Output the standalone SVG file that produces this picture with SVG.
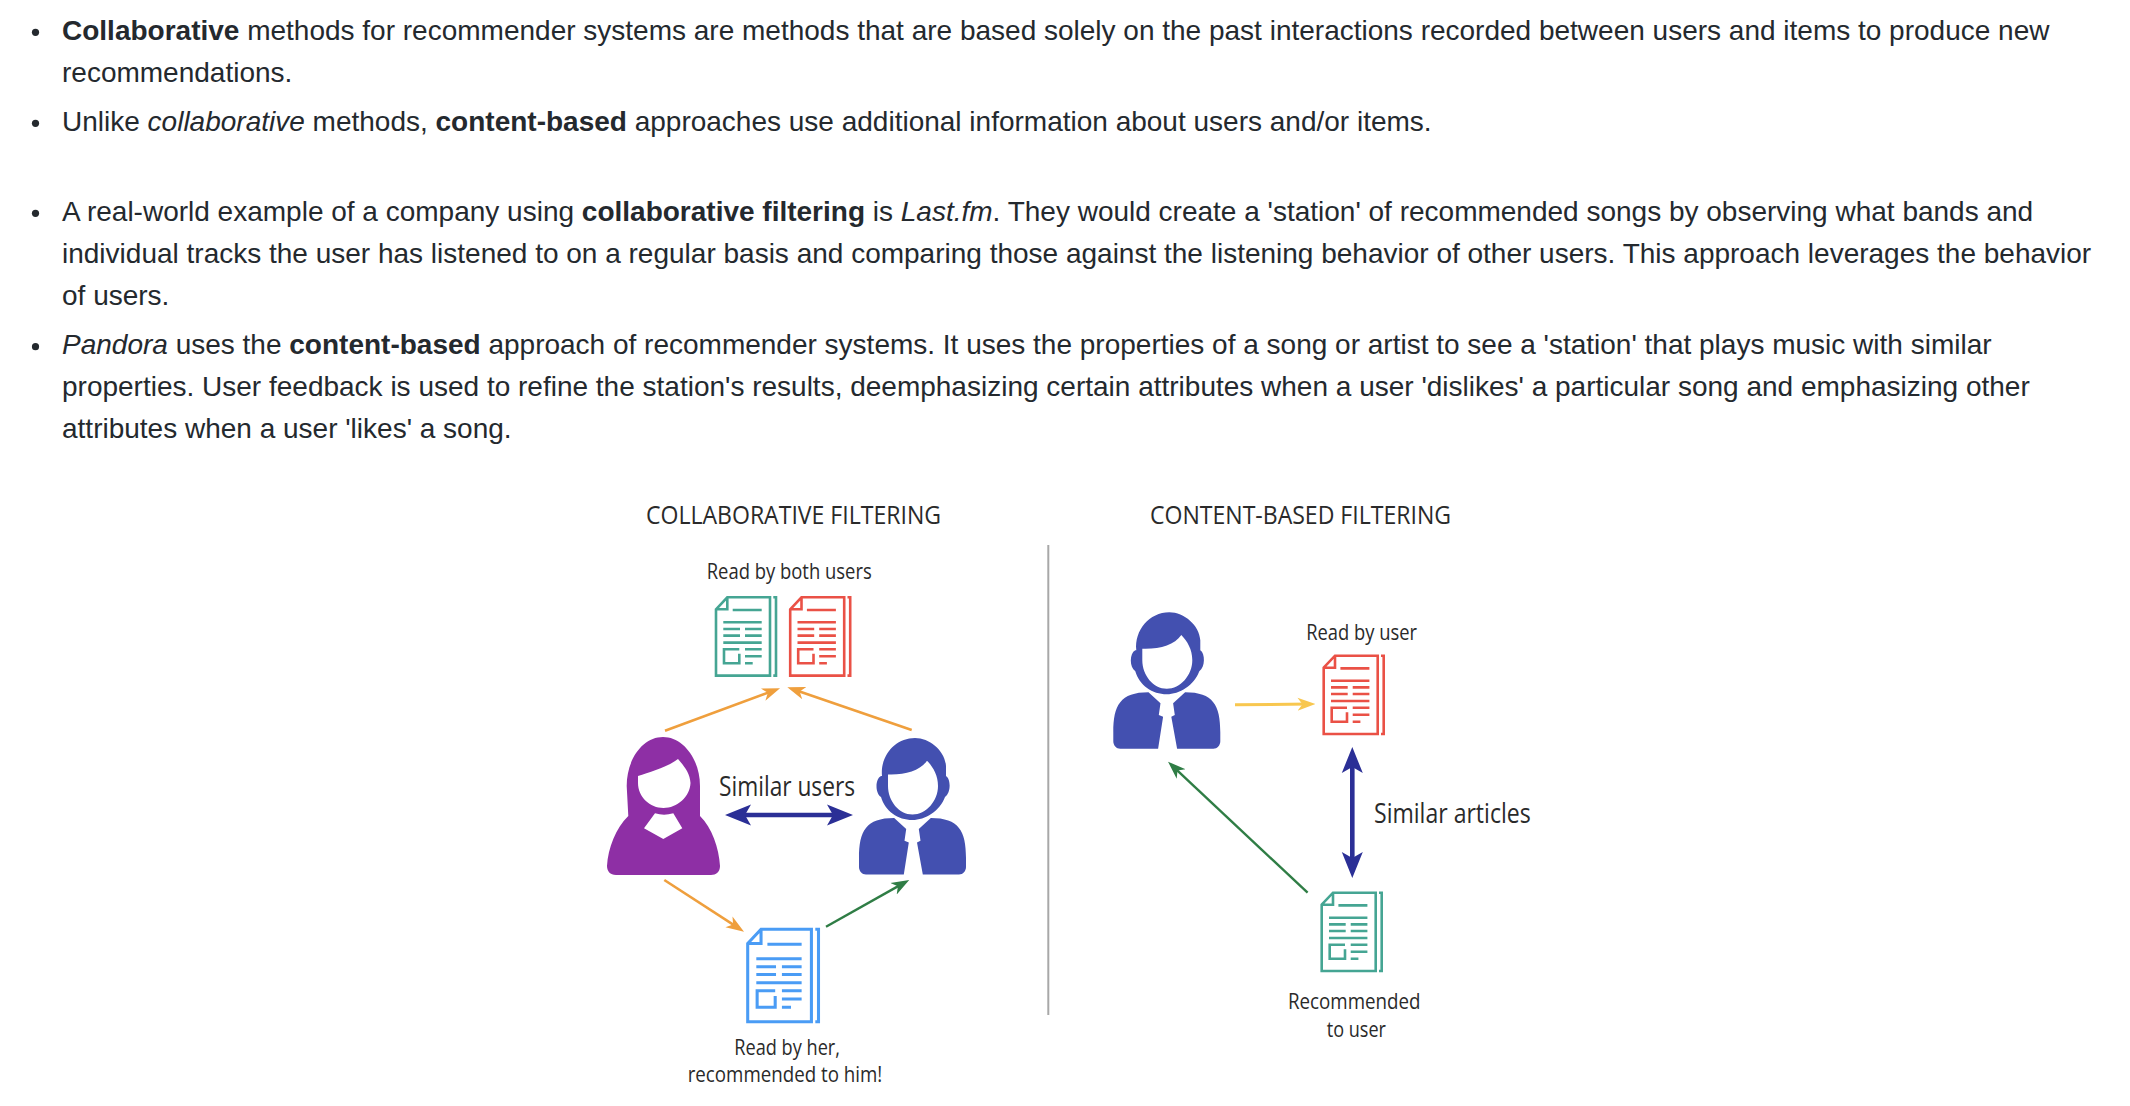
<svg xmlns="http://www.w3.org/2000/svg" xmlns:xlink="http://www.w3.org/1999/xlink" width="2130" height="1106" viewBox="0 0 2130 1106">
<style>
.p{font-family:"Liberation Sans",Arial,sans-serif;font-size:28px;fill:#24292e}
.b{font-weight:700}.i{font-style:italic}
.t{font-family:"Open Sans","Noto Sans",sans-serif;fill:#2a2a2a}
.h{font-size:26px}.l{font-size:22px}.m{font-size:27px}
.blt{fill:#24292e}
.ln{fill:none}
.or{stroke:#ef9f3d;stroke-width:2.6}
.gr{stroke:#2f7d45;stroke-width:2.4}
.ye{stroke:#f8c74f;stroke-width:3}
.nv{stroke:#2b2f96;stroke-width:4.6}
</style>
<defs>
<marker id="aO" markerUnits="userSpaceOnUse" markerWidth="18" markerHeight="14" viewBox="0 -7 18 14" refX="12" refY="0" orient="auto"><path d="M18,0L0,6.5L5,0L0,-6.5Z" fill="#ef9f3d"/></marker>
<marker id="aG" markerUnits="userSpaceOnUse" markerWidth="18" markerHeight="14" viewBox="0 -7 18 14" refX="12" refY="0" orient="auto"><path d="M18,0L0,6.5L5,0L0,-6.5Z" fill="#2f7d45"/></marker>
<marker id="aY" markerUnits="userSpaceOnUse" markerWidth="18" markerHeight="14" viewBox="0 -7 18 14" refX="12" refY="0" orient="auto"><path d="M18,0L0,6.5L5,0L0,-6.5Z" fill="#f8c74f"/></marker>
<marker id="aN" markerUnits="userSpaceOnUse" markerWidth="26" markerHeight="24" viewBox="0 -12 26 24" refX="13" refY="0" orient="auto-start-reverse"><path d="M26,0L0,10.5L6,0L0,-10.5Z" fill="#2b2f96"/></marker>
<g id="doc" fill="none" stroke-width="2.6">
<path d="M0,12L11.3,0H54V78.3H0ZM0,12H11.3V0M57.3,0H60V78.3H57.3M16.7,12.7H45.7M7.3,25H45.7M7.3,31.7H24M29,31.7H45.7M7.3,38.3H24M29,38.3H45.7M7.3,45.3H45.7M23.3,56.5V66H8V52H23.3M29,52H45.7M29,59H45.7M29,66H36.7"/>
</g>
<g id="man">
<path d="M882,776C880,756 895,738 915,738C930,738 945,751 946,766L946,776C951,779 951,793 945,797C940,811 925,820 912.5,820C898,820 885,811 881,797C875,793 875,779 881,776Z"/>
<path fill="#fff" d="M888,774.4C905,775 920,771 927,760.7C933,767 938,775 938,786C938,801 926,814.5 912.5,814.5C899,814.5 888,801 888,786Z"/>
<path d="M894.2,818C866,818 859,831 859,858V867C859,871 862,874.5 866,874.5H903.8L908.8,842.4L904.5,840.7L906.2,829Z"/>
<path d="M930.8,818C959,818 966,831 966,858V867C966,871 963,874.5 959,874.5H922.8L917,842.4L920.5,840.7L918.8,829Z"/>
</g>
</defs>
<rect width="2130" height="1106" fill="#fff"/>
<g id="bullets" class="blt">
<circle cx="35.5" cy="32.3" r="3.6"/><circle cx="35.5" cy="123.3" r="3.6"/><circle cx="35.5" cy="213.3" r="3.6"/><circle cx="35.5" cy="346.7" r="3.6"/>
</g>
<g id="paragraph">
<text class="p" x="62" y="40"><tspan class="b">Collaborative</tspan> methods for recommender systems are methods that are based solely on the past interactions recorded between users and items to produce new</text>
<text class="p" x="62" y="82">recommendations.</text>
<text class="p" x="62" y="131">Unlike <tspan class="i">collaborative</tspan> methods, <tspan class="b">content-based</tspan> approaches use additional information about users and/or items.</text>
<text class="p" x="62" y="221">A real-world example of a company using <tspan class="b">collaborative filtering</tspan> is <tspan class="i">Last.fm</tspan>. They would create a 'station' of recommended songs by observing what bands and</text>
<text class="p" x="62" y="263">individual tracks the user has listened to on a regular basis and comparing those against the listening behavior of other users. This approach leverages the behavior</text>
<text class="p" x="62" y="305">of users.</text>
<text class="p" x="62" y="354"><tspan class="i">Pandora</tspan> uses the <tspan class="b">content-based</tspan> approach of recommender systems. It uses the properties of a song or artist to see a 'station' that plays music with similar</text>
<text class="p" x="62" y="396">properties. User feedback is used to refine the station's results, deemphasizing certain attributes when a user 'dislikes' a particular song and emphasizing other</text>
<text class="p" x="62" y="438">attributes when a user 'likes' a song.</text>
</g>
<g id="titles">
<text class="t h" x="646" y="524" textLength="295" lengthAdjust="spacingAndGlyphs">COLLABORATIVE FILTERING</text>
<text class="t h" x="1150" y="524" textLength="301" lengthAdjust="spacingAndGlyphs">CONTENT-BASED FILTERING</text>
</g>
<line id="divider" x1="1048.3" y1="545" x2="1048.3" y2="1015" stroke="#a8a8a8" stroke-width="2"/>
<g id="connectors" class="ln">
<line class="or" x1="665" y1="730.7" x2="774.4" y2="690.4" marker-end="url(#aO)"/>
<line class="or" x1="911.7" y1="730" x2="793" y2="689.3" marker-end="url(#aO)"/>
<line class="or" x1="664.3" y1="880" x2="739" y2="928.4" marker-end="url(#aO)"/>
<line class="gr" x1="826" y1="926.7" x2="904" y2="882.9" marker-end="url(#aG)"/>
<line class="nv" x1="738" y1="815" x2="840" y2="815" marker-start="url(#aN)" marker-end="url(#aN)"/>
<line class="ye" x1="1235" y1="704.7" x2="1309.5" y2="704.1" marker-end="url(#aY)"/>
<line class="gr" x1="1307.6" y1="892.7" x2="1172.4" y2="765.8" marker-end="url(#aG)"/>
<line class="nv" x1="1352.3" y1="760" x2="1352.3" y2="865" marker-start="url(#aN)" marker-end="url(#aN)"/>
</g>
<g id="doc-both">
<use href="#doc" transform="translate(716,597.3)" stroke="#45a593"/>
<use href="#doc" transform="translate(790.2,597.3)" stroke="#ea5146"/>
<text class="t l" x="706.7" y="579" textLength="165" lengthAdjust="spacingAndGlyphs">Read by both users</text>
</g>
<g id="woman">
<path fill="#8e2fa5" d="M626.7,786C626.7,759 643,737 663,737C683,737 700,759 700,786V816C712,828 719,848 720,866C720,872 716,875 711,875H616C610,875 607,871 607,866C608,848 616,828 628.3,816Z"/>
<path fill="#fff" d="M638,776C650,772 668,767 678,759C684,766 690,773 690.5,783C690,797 677,808 663.5,808C650,808 638,797 638,783Z"/>
<path fill="#fff" d="M655,813.3Q664,816 673.3,813.3L682.3,828.3L663.3,839L644,828.3Z"/>
</g>
<g id="man-left"><use href="#man" fill="#4350b0"/></g>
<g id="similar-users"><text class="t m" x="719" y="796" textLength="136" lengthAdjust="spacingAndGlyphs">Similar users</text></g>
<g id="doc-her">
<use href="#doc" transform="translate(747.7,929.3) scale(1.18)" stroke="#4a9cf5"/>
<text class="t l" x="734.3" y="1054.5" textLength="105.7" lengthAdjust="spacingAndGlyphs">Read by her,</text>
<text class="t l" x="687.7" y="1081.7" textLength="194.6" lengthAdjust="spacingAndGlyphs">recommended to him!</text>
</g>
<g id="man-right"><use href="#man" transform="translate(254.3,-125.7)" fill="#4350b0"/></g>
<g id="doc-user">
<use href="#doc" transform="translate(1323.7,655.7)" stroke="#ea5146"/>
<text class="t l" x="1306.2" y="640" textLength="110.8" lengthAdjust="spacingAndGlyphs">Read by user</text>
</g>
<g id="similar-articles"><text class="t m" x="1374" y="822.5" textLength="156.7" lengthAdjust="spacingAndGlyphs">Similar articles</text></g>
<g id="doc-recommended">
<use href="#doc" transform="translate(1321.7,892.7)" stroke="#45a593"/>
<text class="t l" x="1288" y="1009" textLength="132.5" lengthAdjust="spacingAndGlyphs">Recommended</text>
<text class="t l" x="1326.8" y="1036.7" textLength="59.2" lengthAdjust="spacingAndGlyphs">to user</text>
</g>
</svg>
